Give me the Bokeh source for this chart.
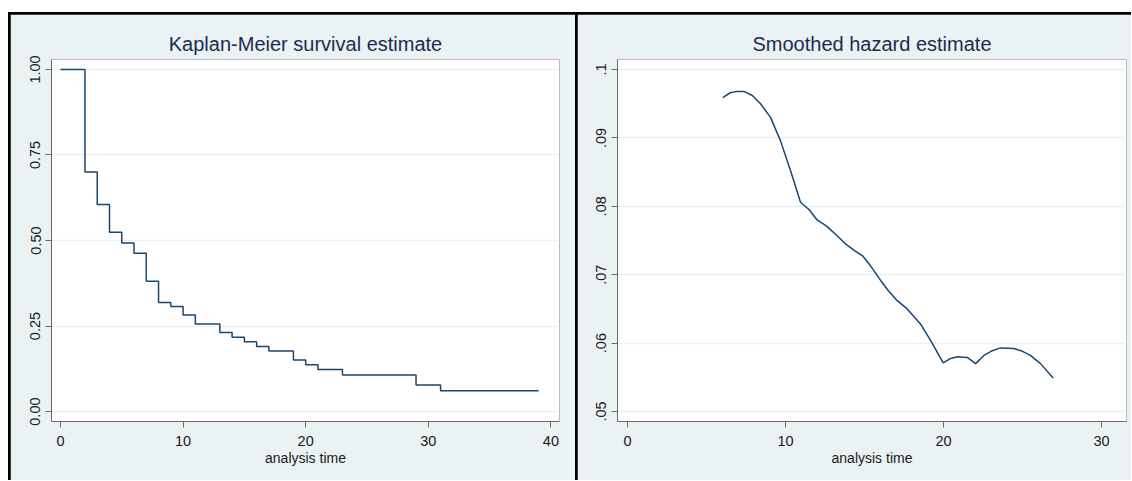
from bokeh.plotting import figure
from bokeh.layouts import row, column
from bokeh.models import Range1d, FixedTicker, Spacer
from bokeh.embed import file_html
from bokeh.resources import INLINE

# ---- data ----
km_time = [0, 2, 3, 4, 5, 6, 7, 8, 9, 10, 11, 13, 14, 15, 16, 17, 19, 20, 21, 23, 29, 31, 39]
km_surv = [1.0, 0.70, 0.605, 0.524, 0.493, 0.463, 0.381, 0.319, 0.307, 0.282, 0.256, 0.231,
           0.217, 0.204, 0.190, 0.177, 0.151, 0.137, 0.123, 0.107, 0.078, 0.061, 0.061]

hz_time = [6.03, 6.5, 6.94, 7.37, 7.9, 8.42, 9.05, 9.68, 10.32, 10.95, 11.5, 12.0, 12.6, 13.27,
           13.8, 14.32, 14.9, 15.38, 16.01, 16.5, 17.07, 17.7, 18.54, 19.18, 19.98, 20.4, 20.87,
           21.5, 22.03, 22.56, 23.0, 23.6, 24.45, 25.0, 25.5, 26.14, 26.94]
hz_val = [0.0959, 0.0966, 0.0968, 0.0968, 0.0962, 0.0950, 0.0930, 0.0896, 0.0852, 0.0806, 0.0795,
          0.0780, 0.0771, 0.0757, 0.0745, 0.0736, 0.0727, 0.0713, 0.0692, 0.0677, 0.0662, 0.0650,
          0.0628, 0.0604, 0.0571, 0.0577, 0.0580, 0.0579, 0.0570, 0.0582, 0.0588, 0.0593, 0.0592,
          0.0588, 0.0582, 0.0570, 0.0549]

km_ticks = [0, 0.25, 0.5, 0.75, 1.0]
km_tick_labels = ["0.00", "0.25", "0.50", "0.75", "1.00"]
km_xticks = [0, 10, 20, 30, 40]
hz_ticks = [0.05, 0.06, 0.07, 0.08, 0.09, 0.1]
hz_tick_labels = [".05", ".06", ".07", ".08", ".09", ".1"]
hz_xticks = [0, 10, 20, 30]

titles = ["Kaplan-Meier survival estimate", "Smoothed hazard estimate"]
xlabel = "analysis time"

BG = "#EAF2F3"
LINE = "#1A476F"
FONT = "Liberation Sans"
AX = "#6b6b6b"


def style(p, yticks, ylabels, xticks):
    p.title.align = "center"
    p.title.text_font = FONT
    p.title.text_font_size = "20px"
    p.title.text_font_style = "normal"
    p.title.text_color = "#1C2B55"
    p.title.standoff = 9
    p.outline_line_color = None
    p.xgrid.grid_line_color = None
    p.ygrid.grid_line_color = BG
    p.ygrid.grid_line_width = 1.5
    p.yaxis.ticker = FixedTicker(ticks=yticks)
    p.ygrid.ticker = FixedTicker(ticks=yticks)
    p.yaxis.major_label_overrides = {t: l for t, l in zip(yticks, ylabels)}
    p.xaxis.ticker = FixedTicker(ticks=xticks)
    p.yaxis.major_label_orientation = "vertical"
    for ax in (p.xaxis[0], p.yaxis[0]):
        ax.axis_line_color = AX
        ax.axis_line_width = 1
        ax.major_tick_line_color = AX
        ax.major_tick_in = 0
        ax.major_tick_out = 6
        ax.minor_tick_line_color = None
        ax.major_label_text_font = FONT
        ax.major_label_text_font_size = "14.5px"
        ax.major_label_text_color = "#1a1a1a"
    p.yaxis.major_label_standoff = 5
    p.xaxis.major_label_standoff = 8
    p.xaxis.axis_label = xlabel
    p.xaxis.axis_label_text_font = FONT
    p.xaxis.axis_label_text_font_size = "14px"
    p.xaxis.axis_label_text_font_style = "normal"
    p.xaxis.axis_label_text_color = "#1a1a1a"
    p.xaxis.axis_label_standoff = 1


H = 466

p1 = figure(width=565, height=H, title=titles[0], output_backend="svg", toolbar_location=None,
            x_range=Range1d(-0.73, 40.7), y_range=Range1d(-0.029, 1.029),
            min_border_left=41, min_border_right=16, min_border_top=45, min_border_bottom=59,
            border_fill_color=BG, background_fill_color="white")
style(p1, km_ticks, km_tick_labels, km_xticks)
p1.step(km_time, km_surv, mode="after", line_color=LINE, line_width=1.5)

p2 = figure(width=554, height=H, title=titles[1], output_backend="svg", toolbar_location=None,
            x_range=Range1d(-0.633, 31.58), y_range=Range1d(0.04854, 0.10146),
            min_border_left=40, min_border_right=5, min_border_top=45, min_border_bottom=59,
            border_fill_color=BG, background_fill_color="white")
style(p2, hz_ticks, hz_tick_labels, hz_xticks)
p2.line(hz_time, hz_val, line_color=LINE, line_width=1.5)

# black rules: the gaps of black-backed layouts show through
panels = row(Spacer(width=0, height=H), p1, p2, spacing=2,
             styles={"background-color": "black"})
layout = column(Spacer(width=0, height=0), panels, spacing=2,
                styles={"background-color": "black"}, margin=(12, 0, 0, 8))

open("out.html", "w").write(file_html(layout, INLINE))
